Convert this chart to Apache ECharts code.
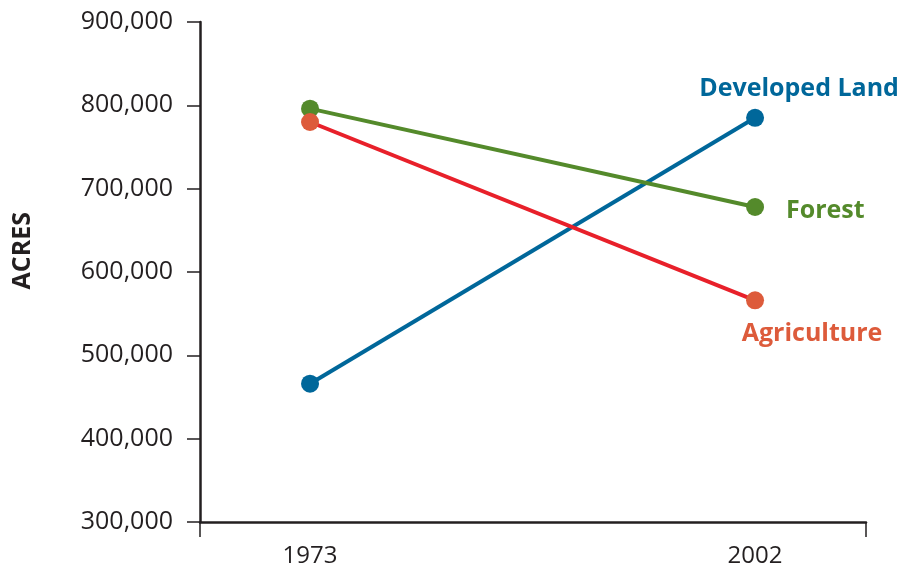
<!DOCTYPE html>
<html><head><meta charset="utf-8">
<script src="https://cdn.jsdelivr.net/npm/echarts@6/dist/echarts.min.js"></script>
<style>html,body{margin:0;padding:0;background:#fff}#c{width:902px;height:571px}</style>
</head><body><div id="c"></div>
<script>
const years = [1973, 2002];
const seriesNames = ['Developed Land', 'Forest', 'Agriculture'];
const developed = [466000, 785000];
const forest = [796000, 678000];
const agriculture = [780000, 566000];
const yTicks = [300000, 400000, 500000, 600000, 700000, 800000, 900000];
const xMin = 1965.83, xMax = 2009.23;

const fontFam = '"Open Sans", "DejaVu Sans", sans-serif';
const axisColor = '#231f20';
function pts(vals){ return years.map((y,i)=>[y, vals[i]]); }
function mk(name, vals, lineColor, dotColor, labelOpt){
  const data = pts(vals).map((p,i)=>{
    const d = {value:p};
    if(i===1){ d.label = Object.assign({show:true, formatter:name, color:dotColor, fontFamily:fontFam, fontWeight:'bold', fontSize:25}, labelOpt); }
    return d;
  });
  return {type:'line', name, data, symbol:'circle', symbolSize:18,
    lineStyle:{color:lineColor, width:4}, itemStyle:{color:dotColor},
    label:{show:false}, silent:true, animation:false, z: 3};
}
const chart = echarts.init(document.getElementById('c'), null, {renderer:'canvas'});
chart.setOption({
  animation:false,
  grid:{left:200, right:36, top:22, bottom:49, containLabel:false},
  graphic:[{type:'text', left:10, top:212, rotation:Math.PI/2,
    style:{text:'ACRES', fill:axisColor, font:'bold 25px "Open Sans", sans-serif'}}],
  xAxis:{type:'value', min:xMin, max:xMax,
    axisLine:{show:true, lineStyle:{color:axisColor, width:2.5}},
    axisTick:{show:true, customValues:[xMin, xMax], length:15, lineStyle:{color:axisColor, width:1.5}},
    axisLabel:{customValues:years, formatter:v=>String(Math.round(v)), color:axisColor, fontFamily:fontFam, fontSize:24, margin:22},
    splitLine:{show:false}},
  yAxis:{type:'value', min:300000, max:900000, interval:100000,
    axisLine:{show:true, lineStyle:{color:axisColor, width:2.5}},
    axisTick:{show:true, length:13, lineStyle:{color:axisColor, width:1.5}},
    axisLabel:{formatter:v=>v.toLocaleString('en-US'), color:axisColor, fontFamily:fontFam, fontSize:25, margin:27},
    splitLine:{show:false}},
  series:[
    mk('Developed Land', developed, '#00679a', '#00679a', {position:'top', offset:[44,-2]}),
    mk('Forest', forest, '#548a2b', '#548a2b', {position:'right', distance:22, offset:[0,4]}),
    mk('Agriculture', agriculture, '#e8202a', '#dd5b3b', {position:'bottom', offset:[57,7]})
  ]
});
</script></body></html>
